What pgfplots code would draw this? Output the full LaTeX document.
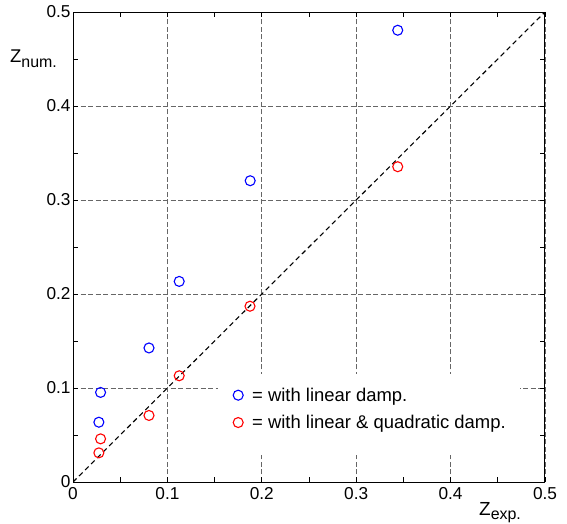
\documentclass[border=0pt]{standalone}
\usepackage{fontspec}
\setmainfont{Liberation Sans}
\usepackage{pgfplots}
\pgfplotsset{compat=1.18}
\begin{document}
\begin{tikzpicture}
\path[use as bounding box] (-73bp,-42bp) rectangle (494bp,482bp);
\begin{axis}[
  at={(0,0)}, anchor=south west,
  scale only axis, width=472bp, height=470bp,
  xmin=0, xmax=0.5, ymin=0, ymax=0.5,
  xtick={0,0.1,0.2,0.3,0.4,0.5},
  ytick={0,0.1,0.2,0.3,0.4,0.5},
  xticklabels={0,0.1,0.2,0.3,0.4,0.5},
  yticklabels={0,0.1,0.2,0.3,0.4,0.5},
  minor tick num=1,
  tick align=inside,
  major tick length=5bp, minor tick length=5bp,
  tick style={black, line width=0.8bp},
  axis line style={line width=1bp},
  grid=major,
  major grid style={dash pattern=on 5bp off 2.5bp, black!60, line width=0.7bp},
  ticklabel style={font=\fontsize{17.3}{18}\selectfont},
  xticklabel style={yshift=-2bp},
  yticklabel style={xshift=1bp},
  /pgf/number format/assume math mode=true,
  legend style={at={(axis cs:0.1536,0.118)}, anchor=north west, draw=none, fill=none,
    font=\fontsize{18.5}{20}\selectfont, inner xsep=15bp, inner ysep=14.5bp, row sep=8.5bp},
  legend cell align=left,
]
\fill[white] (axis cs:0.1536,0.029) rectangle (axis cs:0.4735,0.1145);
\addplot[black, dash pattern=on 5bp off 3.5bp, line width=1.1bp, forget plot] coordinates {(0,0) (0.5,0.5)};
\addplot[only marks, mark=o, mark size=5bp, blue, mark options={line width=1.1bp}] coordinates {
  (0.0274,0.0636) (0.0292,0.0953) (0.0805,0.1426) (0.1125,0.2134) (0.1877,0.3205) (0.3440,0.4806)
};
\addlegendentry{\hspace*{7bp}= with linear damp.}
\addplot[only marks, mark=o, mark size=5bp, red, mark options={line width=1.1bp}] coordinates {
  (0.0274,0.0310) (0.0292,0.0459) (0.0805,0.0708) (0.1125,0.1130) (0.1875,0.1870) (0.3440,0.3354)
};
\addlegendentry{\hspace*{7bp}= with linear \& quadratic damp.}
\end{axis}
\node[anchor=base west, inner sep=0] at (-63bp,419bp) {\fontsize{18.5}{18}\selectfont Z\raisebox{-4.5bp}{\fontsize{16}{16}\selectfont num.}};
\node[anchor=base west, inner sep=0] at (406bp,-33bp) {\fontsize{19}{18}\selectfont Z\raisebox{-4.5bp}{\fontsize{16}{16}\selectfont exp.}};
\end{tikzpicture}
\end{document}
